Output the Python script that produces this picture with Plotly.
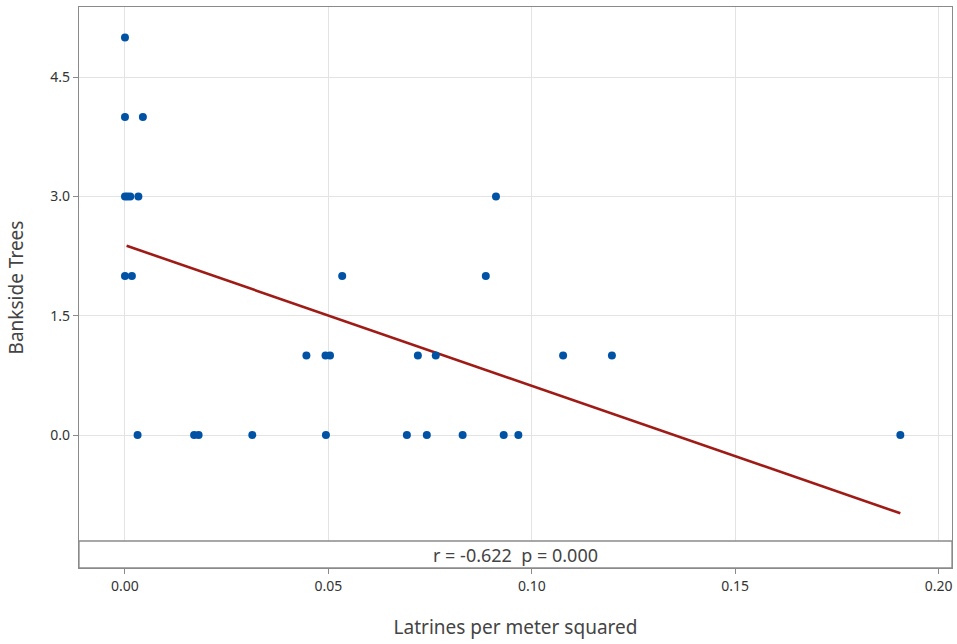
import numpy as np
import plotly.graph_objects as go

# Data
latrines = [0.0000,
            0.0000, 0.0044,
            0.0000, 0.0006, 0.0013, 0.0033, 0.0912,
            0.0000, 0.0017, 0.0534, 0.0887,
            0.0446, 0.0493, 0.0504, 0.0720, 0.0764, 0.1077, 0.1197,
            0.0031, 0.0170, 0.0181, 0.0313, 0.0494, 0.0693, 0.0742, 0.0830, 0.0931, 0.0967, 0.1906]
trees = [5,
         4, 4,
         3, 3, 3, 3, 3,
         2, 2, 2, 2,
         1, 1, 1, 1, 1, 1, 1,
         0, 0, 0, 0, 0, 0, 0, 0, 0, 0, 0]

# Fitted line (start / end)
fit_x = [0.0004, 0.1906]
fit_y = [2.381, -0.985]

x_ticks = [0.00, 0.05, 0.10, 0.15, 0.20]
y_ticks = [0.0, 1.5, 3.0, 4.5]
stat_text = "r = -0.622  p = 0.000"

fig = go.Figure()
fig.add_trace(go.Scatter(x=fit_x, y=fit_y, mode="lines",
                         line=dict(color="#9E1B16", width=2.6), hoverinfo="skip"))
fig.add_trace(go.Scatter(x=latrines, y=trees, mode="markers",
                         marker=dict(color="#0052A5", size=8)))

W, H = 957, 644
ml, mr, mt, mb = 79, 5, 7, 76
plot_h = H - mt - mb
box_frac = 27 / plot_h

fig.update_layout(
    width=W, height=H,
    margin=dict(l=ml, r=mr, t=mt, b=mb, autoexpand=False),
    paper_bgcolor="white", plot_bgcolor="white",
    showlegend=False,
    font=dict(family="Noto Sans, Open Sans, sans-serif", color="#333333"),
    xaxis=dict(range=[-0.0113, 0.2033], tickvals=x_ticks, tickformat=".2f",
               automargin=False,
               showgrid=True, gridcolor="#E3E3E3", gridwidth=1,
               zeroline=False, showline=True, linecolor="#8A8A8A", linewidth=1.3, mirror=True,
               ticks="outside", ticklen=5, tickcolor="#8A8A8A",
               tickfont=dict(size=14, color="#333333"),
               title=dict(text="Latrines per meter squared", font=dict(size=19, color="#444444"), standoff=26)),
    yaxis=dict(range=[-1.673, 5.384], tickvals=y_ticks, tickformat=".1f",
               automargin=False,
               showgrid=True, gridcolor="#E3E3E3", gridwidth=1,
               zeroline=False, showline=True, linecolor="#8A8A8A", linewidth=1.3, mirror=True,
               ticks="outside", ticklen=5, tickcolor="#8A8A8A",
               tickfont=dict(size=14, color="#333333"),
               title=dict(text="Bankside Trees", font=dict(size=19, color="#444444"), standoff=21)),
    shapes=[dict(type="rect", xref="paper", yref="paper", x0=0, x1=1, y0=0, y1=box_frac,
                 fillcolor="white", line=dict(color="#8A8A8A", width=1.3), layer="above")],
    annotations=[dict(text=stat_text, xref="paper", yref="paper", x=0.5, y=box_frac / 2,
                      showarrow=False, font=dict(size=18, color="#444444"),
                      xanchor="center", yanchor="middle")],
)

fig.write_html("out.html", config=dict(responsive=False, displayModeBar=False),
               post_script="document.body.style.margin='0';document.body.style.overflow='hidden';")
